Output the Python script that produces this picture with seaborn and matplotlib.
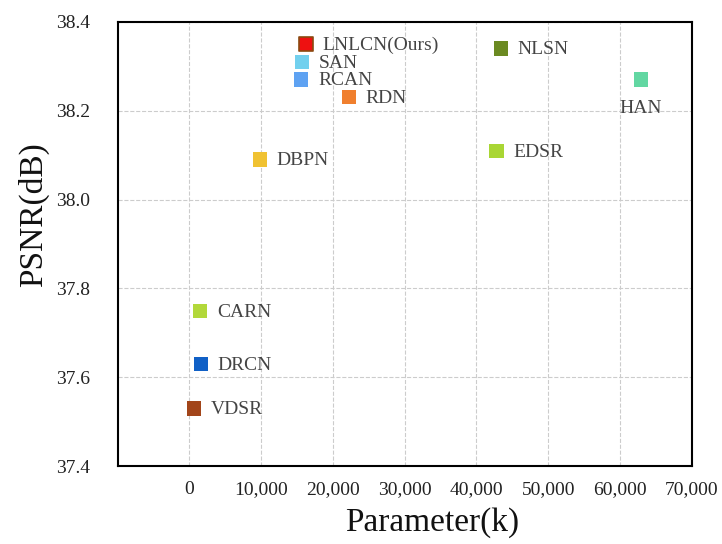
import pandas as pd
import seaborn as sns
import matplotlib.pyplot as plt

models = ['LNLCN(Ours)', 'SAN', 'RCAN', 'RDN', 'NLSN', 'HAN', 'EDSR', 'DBPN', 'CARN', 'DRCN', 'VDSR']
params = [16200, 15700, 15600, 22200, 43400, 62900, 42800, 9800, 1500, 1600, 600]
psnr = [38.35, 38.31, 38.27, 38.23, 38.34, 38.27, 38.11, 38.09, 37.75, 37.63, 37.53]
colors = ['#ee1111', '#72d0ee', '#5ea2f2', '#f07f2e', '#6b8a22', '#62d7a2',
          '#a9d634', '#f0c232', '#b2d83a', '#1060c6', '#a2451a']

df = pd.DataFrame({'model': models, 'params': params, 'psnr': psnr})

sns.set_theme(style="whitegrid")
plt.rcParams['font.family'] = ['Liberation Serif', 'DejaVu Serif']

fig = plt.figure(figsize=(7.22, 5.44), dpi=100)
ax = fig.add_axes([0.163, 0.143, 0.795, 0.817])

sns.scatterplot(data=df, x='params', y='psnr', hue='model', palette=dict(zip(models, colors)),
                marker='s', s=105, edgecolor='none', legend=False, ax=ax, zorder=3)
# red square of ours has a dark outline
ours = df[df['model'] == 'LNLCN(Ours)']
ax.scatter(ours['params'], ours['psnr'], marker='s', s=105, color='#ee1111',
           edgecolor='#8a4a10', linewidth=1.2, zorder=4)

for m, xv, yv in zip(models, params, psnr):
    if m == 'HAN':
        ax.annotate(m, (xv, yv), xytext=(0, -21), textcoords='offset points',
                    ha='center', va='center', fontsize=14, color='#444444')
    else:
        ax.annotate(m, (xv, yv), xytext=(12, -1), textcoords='offset points',
                    ha='left', va='center', fontsize=14, color='#444444')

ax.set_xlim(-10000, 70000)
ax.set_ylim(37.4, 38.4)
ax.set_xticks(range(0, 70001, 10000))
ax.set_xticklabels(['0'] + [f'{v:,}' for v in range(10000, 70001, 10000)])
ax.set_yticks([37.4, 37.6, 37.8, 38.0, 38.2, 38.4])
ax.set_yticklabels(['37.4', '37.6', '37.8', '38.0', '38.2', '38.4'])
ax.tick_params(axis='both', direction='in', length=4, width=1, colors='black',
               labelsize=14, labelcolor='#222222')
ax.tick_params(axis='x', pad=11)
ax.tick_params(axis='y', pad=20)
ax.grid(True, linestyle='--', color='#cccccc', linewidth=0.8)
for sp in ax.spines.values():
    sp.set_color('black')
    sp.set_linewidth(1.5)

ax.set_xlabel('Parameter(k)', fontsize=24, color='#111111')
ax.set_ylabel('PSNR(dB)', fontsize=24, color='#111111')
ax.xaxis.set_label_coords(0.547, -0.092)
ax.yaxis.set_label_coords(-0.12, 0.565)

plt.savefig('out.png', dpi=100)
